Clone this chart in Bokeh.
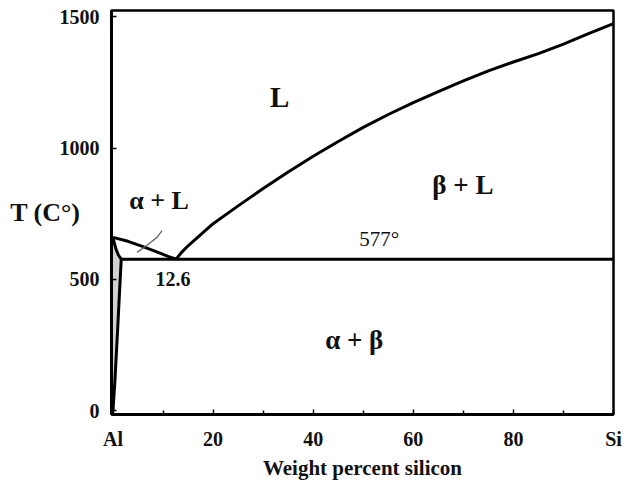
from bokeh.plotting import figure
from bokeh.models import Range1d, FixedTicker, Label
from bokeh.embed import file_html
from bokeh.resources import INLINE

# Al-Si phase diagram: composition in wt% Si, temperature in deg C
liq_si_x = [12.6, 13.8, 15, 20, 25, 30, 35, 40, 45, 50, 55, 60, 65, 70, 75, 80, 85, 90, 95, 100]
liq_si_t = [577, 605, 628, 712, 780, 846, 909, 969, 1025, 1079, 1128, 1173, 1215, 1256, 1294, 1328, 1360, 1396, 1436, 1474]

liq_al_x = [0.0, 3.0, 6.0, 9.0, 11.0, 12.6]
liq_al_t = [660, 645, 625, 603, 588, 577]

solidus_x = [0.0, 0.25, 0.6, 1.1, 1.65]
solidus_t = [660, 640, 615, 592, 577]

solvus_x = [1.65, 1.3, 0.9, 0.4, 0.0]
solvus_t = [577, 450, 300, 120, 0]

eutectic_x = [1.65, 100.0]
eutectic_t = [577, 577]

stroke_x = [4.8, 6.8, 8.8, 9.8]
stroke_t = [603, 630, 660, 686]

x_ticks = [0, 20, 40, 60, 80, 100]
x_minor = [10, 30, 50, 70, 90]
x_tick_labels = {0: "Al", 20: "20", 40: "40", 60: "60", 80: "80", 100: "Si"}
y_ticks = [0, 500, 1000, 1500]
y_tick_labels = {0: "0", 500: "500", 1000: "1000", 1500: "1500"}

SERIF = "Liberation Serif"

p = figure(width=637, height=482, output_backend="svg", toolbar_location=None,
           x_range=Range1d(-0.3, 100.0), y_range=Range1d(-14.5, 1524))
p.min_border_left = 111
p.min_border_right = 24
p.min_border_top = 10
p.min_border_bottom = 68
p.background_fill_color = "white"
p.border_fill_color = "white"
p.xgrid.visible = False
p.ygrid.visible = False
p.outline_line_color = "black"
p.outline_line_width = 2.5

# axes
p.xaxis.ticker = FixedTicker(ticks=x_ticks, minor_ticks=x_minor)
p.xaxis.major_label_overrides = x_tick_labels
p.yaxis.ticker = FixedTicker(ticks=y_ticks)
p.yaxis.major_label_overrides = y_tick_labels
for ax in (p.xaxis[0], p.yaxis[0]):
    ax.axis_line_width = 3
    ax.axis_line_color = "black"
    ax.major_tick_in = 5
    ax.major_tick_out = 0
    ax.major_tick_line_width = 1.5
    ax.minor_tick_in = 4
    ax.minor_tick_out = 0
    ax.minor_tick_line_width = 1.5
    ax.major_label_text_font = SERIF
    ax.major_label_text_font_style = "bold"
    ax.major_label_text_font_size = "20px"
    ax.major_label_text_color = "#111111"
    ax.axis_label_text_font = SERIF
    ax.axis_label_text_font_style = "bold"
    ax.axis_label_text_color = "#111111"
p.xaxis.major_label_standoff = 13
p.yaxis.major_label_standoff = 12

p.xaxis.axis_label = "Weight percent silicon"
p.xaxis.axis_label_text_font_size = "21px"
p.xaxis.axis_label_standoff = 3

p.yaxis.axis_label = "T (C°)"
p.yaxis.axis_label_orientation = "horizontal"
p.yaxis.axis_label_text_font_size = "26px"
p.yaxis.axis_label_standoff = -24

# two-phase sliver next to the Al axis
p.patch(solvus_x + [0.0], solvus_t + [660], fill_color="#9a9a9a", fill_alpha=0.45, line_alpha=0)

# phase boundaries
lw = 3
p.line(liq_si_x, liq_si_t, line_color="black", line_width=lw)
p.line(liq_al_x, liq_al_t, line_color="black", line_width=lw)
p.line(solidus_x, solidus_t, line_color="black", line_width=lw)
p.line(solvus_x, solvus_t, line_color="black", line_width=lw)
p.line(eutectic_x, eutectic_t, line_color="black", line_width=lw)
p.line(stroke_x, stroke_t, line_color="#666666", line_width=1.3)


def add_label(x, y, text, size, bold=True, color="#111111"):
    p.add_layout(Label(x=x, y=y, text=text, text_font=SERIF,
                       text_font_style="bold" if bold else "normal",
                       text_font_size=size, text_color=color,
                       text_align="center", text_baseline="middle"))


add_label(33.3, 1193, "L", "29px")
add_label(9.2, 800, "α + L", "26px")
add_label(69.9, 858, "β + L", "27px")
add_label(53.2, 652, "577°", "21px", bold=False)
add_label(12.0, 500, "12.6", "20px")
add_label(48.2, 271, "α + β", "27px")

open("out.html", "w").write(file_html(p, INLINE))
